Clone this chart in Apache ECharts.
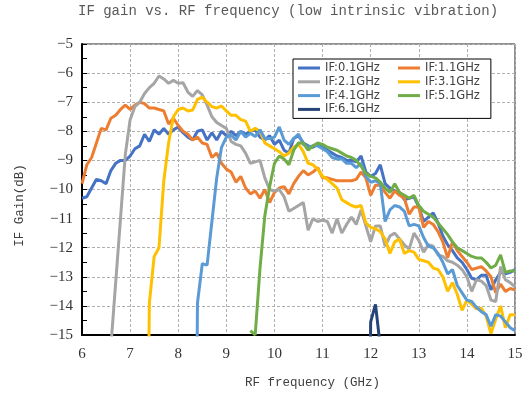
<!DOCTYPE html>
<html><head><meta charset="utf-8">
<script src="https://cdn.jsdelivr.net/npm/echarts@6/dist/echarts.min.js"></script>
<style>html,body{margin:0;padding:0;background:#fff}#c{width:531px;height:402px}</style>
</head><body><div id="c"></div>
<script>
// RF frequency (GHz)
const freq = [
 6.0,6.1,6.2,6.3,6.4,6.5,6.6,6.7,6.8,6.9,
 7.0,7.1,7.2,7.3,7.4,7.5,7.6,7.7,7.8,7.9,
 8.0,8.1,8.2,8.3,8.4,8.5,8.6,8.7,8.8,8.9,
 9.0,9.1,9.2,9.3,9.4,9.5,9.6,9.7,9.8,9.9,
 10.0,10.1,10.2,10.3,10.4,10.5,10.6,10.7,10.8,10.9,
 11.0,11.1,11.2,11.3,11.4,11.5,11.6,11.7,11.8,11.9,
 12.0,12.1,12.2,12.3,12.4,12.5,12.6,12.7,12.8,12.9,
 13.0,13.1,13.2,13.3,13.4,13.5,13.6,13.7,13.8,13.9,
 14.0,14.1,14.2,14.3,14.4,14.5,14.6,14.7,14.8,14.9,
 15.0];

const seriesNames = ['IF:0.1GHz','IF:1.1GHz','IF:2.1GHz','IF:3.1GHz','IF:4.1GHz','IF:5.1GHz','IF:6.1GHz'];

const if01 = [
 -10.3,-10.25,-9.95,-9.65,-9.7,-9.8,-9.35,-9.1,-9.0,-9.0,
 -8.85,-8.6,-8.5,-8.1,-8.35,-7.95,-8.1,-7.9,-8.1,-7.95,
 -7.85,-8.05,-8.2,-8.3,-8.0,-7.95,-8.3,-8.05,-8.3,-8.0,
 -8.15,-8.0,-8.15,-8.0,-8.1,-8.0,-7.95,-8.2,-8.3,-8.15,
 -8.45,-8.3,-8.65,-8.75,-8.25,-8.15,-8.4,-8.5,-8.55,-8.45,
 -8.55,-8.65,-8.75,-8.85,-8.9,-9.0,-9.0,-9.05,-8.85,-9.4,
 -9.55,-9.45,-9.15,-9.8,-9.95,-10.05,-10.1,-10.35,-10.3,-10.25,
 -10.6,-11.1,-10.95,-10.8,-11.15,-11.6,-11.9,-12.1,-12.35,-12.5,
 -12.75,-13.05,-13.1,-12.95,-12.95,-13.45,-13.1,-12.85,-12.9,-12.85,
 -12.75];

const if11 = [
 -9.8,-9.15,-8.9,-8.4,-7.9,-7.95,-7.55,-7.45,-7.25,-7.1,
 -7.25,-7.1,-7.0,-7.05,-7.2,-7.2,-7.25,-7.3,-7.75,-7.55,
 -7.8,-8.0,-8.1,-8.3,-8.2,-8.4,-8.45,-8.9,-8.75,-9.1,
 -9.3,-9.4,-9.75,-9.55,-9.95,-10.15,-10.05,-10.3,-10.0,-10.45,
 -10.1,-9.95,-9.9,-10.15,-9.8,-9.55,-9.35,-9.5,-9.4,-9.25,
 -9.6,-9.6,-9.65,-9.7,-9.7,-9.7,-9.7,-9.65,-9.4,-9.6,
 -10.2,-9.85,-9.85,-10.1,-10.3,-10.05,-10.2,-10.3,-10.85,-10.6,
 -10.6,-11.3,-11.1,-11.2,-11.45,-11.8,-12.35,-11.8,-12.1,-12.3,
 -12.5,-12.75,-12.7,-12.65,-12.8,-13.0,-13.55,-13.25,-13.5,-13.4,
 -13.45];

const if21 = [
 null,null,null,null,null,null,-15.4,-13.2,-11.0,-8.8,
 -7.6,-7.15,-7.0,-6.7,-6.5,-6.35,-6.1,-6.2,-6.35,-6.25,
 -6.35,-6.33,-6.65,-6.8,-6.6,-6.75,-7.1,-7.5,-7.7,-7.8,
 -7.9,-8.35,-8.45,-8.5,-8.75,-9.1,-9.05,-9.0,-9.6,-10.0,
 -10.05,-10.0,-10.25,-10.75,-10.65,-10.55,-10.45,-11.4,-11.0,-11.1,
 -11.05,-11.1,-11.5,-11.0,-11.5,-11.2,-10.95,-11.2,-10.7,-11.25,
 -11.8,-11.25,-11.25,-11.95,-11.6,-11.5,-11.7,-11.9,-12.05,-11.5,
 -11.75,-12.15,-11.9,-11.95,-12.25,-12.3,-12.45,-12.5,-12.6,-12.75,
 -13.0,-13.5,-13.1,-13.15,-13.3,-13.8,-13.85,-12.65,-13.1,-13.2,
 -13.35];

const if31 = [
 null,null,null,null,null,null,null,null,null,null,
 null,null,null,-30,-13.9,-12.3,-12.0,-9.7,-8.4,-7.5,
 -7.25,-7.2,-7.3,-7.27,-6.9,-6.83,-7.0,-7.15,-7.2,-7.13,
 -7.3,-7.45,-7.45,-7.6,-7.65,-8.0,-7.9,-8.0,-8.4,-8.5,
 -8.6,-8.7,-8.85,-8.75,-8.55,-8.45,-8.7,-9.1,-9.15,-9.3,
 -9.55,-9.65,-9.8,-9.95,-10.35,-10.45,-10.55,-10.6,-10.55,-11.15,
 -11.3,-11.35,-11.45,-11.7,-12.2,-11.8,-11.7,-12.2,-12.1,-12.15,
 -12.4,-12.45,-12.5,-12.7,-12.75,-13.0,-13.5,-13.2,-13.6,-14.15,
 -13.8,-13.95,-14.1,-14.08,-14.35,-14.95,-14.45,-14.0,-14.75,-14.3,
 -14.3];

const if41 = [
 null,null,null,null,null,null,null,null,null,null,
 null,null,null,null,null,null,null,null,null,null,
 null,null,null,-35,-13.9,-12.55,-12.6,-11.1,-9.6,-8.55,
 -8.2,-8.13,-8.3,-8.0,-8.2,-8.07,-8.18,-7.95,-8.25,-8.25,
 -8.2,-7.85,-8.3,-8.45,-8.25,-8.1,-8.45,-8.55,-8.5,-8.5,
 -8.6,-8.7,-8.9,-8.95,-8.95,-9.1,-9.1,-9.25,-9.1,-9.55,
 -9.75,-9.7,-9.8,-11.1,-10.7,-10.55,-10.6,-10.75,-11.25,-11.2,
 -11.25,-11.65,-11.95,-12.0,-12.2,-12.5,-12.9,-12.75,-13.3,-13.55,
 -13.8,-13.85,-14.05,-14.2,-14.3,-14.7,-14.3,-14.35,-14.55,-14.75,
 -14.85];

const if51 = [
 null,null,null,null,null,null,null,null,null,null,
 null,null,null,null,null,null,null,null,null,null,
 null,null,null,null,null,null,null,null,null,null,
 null,null,null,null,null,-14.85,-15.0,-12.7,-10.9,-9.9,
 -9.1,-8.85,-8.95,-9.15,-8.65,-8.4,-8.4,-8.65,-8.5,-8.4,
 -8.45,-8.55,-8.6,-8.65,-8.75,-8.85,-8.9,-9.0,-9.2,-9.45,
 -9.55,-9.6,-9.75,-9.95,-10.1,-9.8,-10.1,-10.2,-10.3,-10.2,
 -10.55,-10.75,-10.85,-10.95,-11.15,-11.35,-11.55,-11.8,-12.0,-12.1,
 -12.2,-12.3,-12.35,-12.35,-12.5,-12.7,-12.6,-12.25,-12.85,-12.8,
 -12.8];

const if61 = [
 null,null,null,null,null,null,null,null,null,null,
 null,null,null,null,null,null,null,null,null,null,
 null,null,null,null,null,null,null,null,null,null,
 null,null,null,null,null,null,null,null,null,null,
 null,null,null,null,null,null,null,null,null,null,
 null,null,null,null,null,null,null,null,null,-30,
 -14.55,-13.95,-15.4,null,null,null,null,null,null,null,
 null,null,null,null,null,null,null,null,null,null,
 null,null,null,null,null,null,null,null,null,null,
 null];

const xTicks = [6,7,8,9,10,11,12,13,14,15];
const yTicks = [-5,-6,-7,-8,-9,-10,-11,-12,-13,-14,-15];

const colors = ['#4472C4','#ED7D31','#A5A5A5','#FFC000','#5B9BD5','#70AD47','#264478'];
const allData = [if01, if11, if21, if31, if41, if51, if61];

const chart = echarts.init(document.getElementById('c'), null, {renderer: 'canvas'});
const legendText = {fontFamily: 'DejaVu Sans', fontSize: 11.5, color: '#404040'};
const option = {
  backgroundColor: '#fff',
  animation: false,
  title: {
    text: 'IF gain vs. RF frequency (low intrinsic vibration)',
    left: 78, top: 4, padding: 0,
    textStyle: {fontFamily: 'Liberation Mono', fontSize: 14, fontWeight: 'normal', color: '#595959'}
  },
  legend: [
    {
      data: [seriesNames[0], seriesNames[2], seriesNames[4], seriesNames[6]],
      orient: 'vertical', left: 293, top: 59,
      padding: [3, 111, 3, 5],
      icon: 'rect', itemWidth: 22, itemHeight: 3, itemGap: 1.8,
      borderColor: '#000', borderWidth: 1, backgroundColor: '#fff',
      textStyle: legendText, z: 4
    },
    {
      data: [seriesNames[1], seriesNames[3], seriesNames[5]],
      orient: 'vertical', left: 393, top: 59,
      padding: [3, 5, 3, 5],
      icon: 'rect', itemWidth: 22, itemHeight: 3, itemGap: 1.8,
      textStyle: legendText, z: 5
    }
  ],
  grid: {left: 82, right: 16, top: 44, bottom: 67, show: true, borderColor: '#222', borderWidth: 1, backgroundColor: 'transparent'},
  xAxis: {
    type: 'value', min: xTicks[0], max: xTicks[xTicks.length - 1], interval: 1,
    name: 'RF frequency (GHz)', nameLocation: 'middle', nameGap: 41,
    nameTextStyle: {fontFamily: 'Liberation Mono', fontSize: 12.5, color: '#404040', padding: [0, 0, 0, 28]},
    axisLine: {lineStyle: {color: '#000', width: 2}},
    axisTick: {show: false},
    axisLabel: {fontFamily: 'Liberation Serif', fontSize: 15, color: '#333', margin: 12},
    splitLine: {show: true, lineStyle: {color: '#B0B0B0', type: [3, 2], width: 1}}
  },
  yAxis: {
    type: 'value', min: yTicks[yTicks.length - 1], max: yTicks[0], interval: 1,
    name: 'IF Gain(dB)', nameLocation: 'middle', nameGap: 56,
    nameTextStyle: {fontFamily: 'Liberation Mono', fontSize: 12.5, color: '#404040', padding: [0, 32, 0, 0]},
    axisLine: {show: true, lineStyle: {color: '#000', width: 2}},
    axisTick: {show: true, inside: true, length: 5, lineStyle: {color: '#000'}},
    minorTick: {show: true, splitNumber: 2, length: 5, lineStyle: {color: '#000'}},
    axisLabel: {fontFamily: 'Liberation Serif', fontSize: 15, color: '#333', margin: 9,
      formatter: v => String(v).replace('-', '\u2212')},
    splitLine: {show: true, lineStyle: {color: '#B0B0B0', type: [3, 2], width: 1}}
  },
  series: allData.map((arr, k) => ({
    name: seriesNames[k],
    type: 'line',
    symbol: 'none',
    clip: true,
    connectNulls: false,
    color: colors[k],
    lineStyle: {width: 3, color: colors[k]},
    data: freq.map((f, i) => [f, arr[i]])
  }))
};
chart.setOption(option);
</script>
</body></html>
